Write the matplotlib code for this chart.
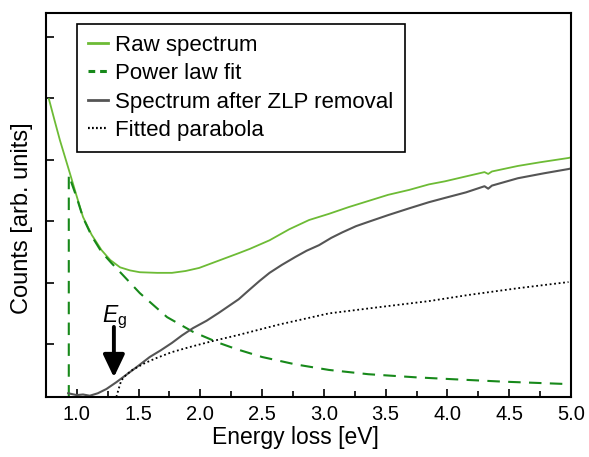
import matplotlib
matplotlib.use('Agg')
import matplotlib.pyplot as plt

plt.rcParams['font.family'] = ['Liberation Sans', 'DejaVu Sans']
plt.rcParams['mathtext.fontset'] = 'custom'
plt.rcParams['mathtext.rm'] = 'Liberation Sans'
plt.rcParams['mathtext.it'] = 'Liberation Sans:italic'

# raw spectrum
raw_x = [0.774, 0.82, 0.863, 0.944, 1.0, 1.05, 1.12, 1.20, 1.27, 1.35, 1.43, 1.51,
         1.65, 1.77, 1.88, 1.99, 2.15, 2.31, 2.40, 2.56, 2.72, 2.88, 3.04, 3.20,
         3.36, 3.52, 3.69, 3.85, 3.98, 4.15, 4.30, 4.33, 4.36, 4.57, 4.75, 4.98, 5.0]
raw_y = [3.99, 3.64, 3.32, 2.78, 2.40, 2.07, 1.78, 1.53, 1.37, 1.25, 1.20, 1.17,
         1.16, 1.16, 1.19, 1.24, 1.36, 1.48, 1.55, 1.69, 1.87, 2.02, 2.12, 2.23,
         2.33, 2.43, 2.51, 2.60, 2.65, 2.73, 2.80, 2.77, 2.81, 2.90, 2.96, 3.03, 3.04]

# power law fit (vertical drop at the fit window start)
pl_x = [0.935, 0.935, 1.0, 1.05, 1.12, 1.20, 1.28, 1.37, 1.51, 1.73, 1.94, 2.15,
        2.29, 2.50, 2.77, 3.04, 3.36, 3.74, 4.03, 4.44, 4.97]
pl_y = [-0.87, 2.75, 2.38, 2.06, 1.76, 1.50, 1.32, 1.13, 0.83, 0.44, 0.20, 0.02,
        -0.08, -0.21, -0.33, -0.42, -0.49, -0.54, -0.57, -0.61, -0.65]

# spectrum after ZLP removal
zlp_x = [0.93, 1.0, 1.05, 1.105, 1.17, 1.24, 1.32, 1.40, 1.50, 1.59, 1.68, 1.77,
         1.85, 1.94, 2.05, 2.15, 2.23, 2.31, 2.40, 2.48, 2.56, 2.66, 2.77, 2.86,
         2.96, 3.06, 3.15, 3.26, 3.36, 3.52, 3.69, 3.85, 3.98, 4.15, 4.30, 4.33,
         4.36, 4.57, 4.78, 4.98, 5.0]
zlp_y = [-0.80, -0.83, -0.82, -0.84, -0.80, -0.73, -0.62, -0.50, -0.35, -0.21, -0.10, 0.02,
         0.14, 0.26, 0.38, 0.51, 0.62, 0.73, 0.89, 1.03, 1.16, 1.29, 1.42, 1.52,
         1.61, 1.73, 1.82, 1.92, 1.99, 2.10, 2.21, 2.31, 2.38, 2.47, 2.57, 2.53,
         2.58, 2.70, 2.78, 2.85, 2.86]

# fitted parabola
par_x = [1.32, 1.34, 1.36, 1.40, 1.45, 1.55, 1.64, 1.77, 1.91, 2.10, 2.31, 2.64,
         3.04, 3.44, 3.85, 4.17, 4.57, 4.98]
par_y = [-0.86, -0.72, -0.59, -0.50, -0.42, -0.31, -0.23, -0.13, -0.05, 0.05, 0.15, 0.32,
         0.50, 0.60, 0.70, 0.80, 0.91, 1.01]

eg_x = 1.30

fig = plt.figure(figsize=(5.89, 4.57), dpi=100)
ax = fig.add_axes([0.078, 0.131, 0.8914, 0.8406])

ax.plot(raw_x, raw_y, color='#6dbb35', lw=1.3, label='Raw spectrum')
ax.plot(pl_x, pl_y, color='#17891a', lw=1.5, ls=(0, (6, 4)), label='Power law fit')
ax.plot(zlp_x, zlp_y, color='#555555', lw=1.5, label='Spectrum after ZLP removal')
ax.plot(par_x, par_y, color='black', lw=1.3, ls=(0, (1, 1.5)), label='Fitted parabola')

# band gap arrow
ax.annotate('', xy=(eg_x, -0.54), xytext=(eg_x, 0.28),
            arrowprops=dict(arrowstyle='-|>,head_width=0.5,head_length=1.05',
                            mutation_scale=13, color='black', lw=2.8,
                            shrinkA=0, shrinkB=0))
ax.text(1.306, 0.36, r'$E_{\mathrm{g}}$', fontsize=16.5, ha='center', va='baseline')

ax.set_xlim(0.75, 5.0)
ax.set_ylim(-0.863, 5.39)
ax.set_xticks([1.0, 1.5, 2.0, 2.5, 3.0, 3.5, 4.0, 4.5, 5.0])
ax.set_xticks([1.25, 1.75, 2.25, 2.75, 3.25, 3.75, 4.25, 4.75], minor=True)
ax.set_yticks([0, 1, 2, 3, 4, 5])
ax.set_yticklabels([])
ax.tick_params(direction='in', which='major', length=6, width=1.2, labelsize=14.5, top=False, right=False)
ax.tick_params(direction='in', which='minor', length=4, width=1.2)
ax.tick_params(axis='x', pad=6)
for s in ax.spines.values():
    s.set_linewidth(1.5)

ax.set_xlabel('Energy loss [eV]', fontsize=16.5)
ax.set_ylabel('Counts [arb. units]', fontsize=17)
ax.xaxis.set_label_coords(0.476, -0.075)
ax.yaxis.set_label_coords(-0.025, 0.467)

leg = ax.legend(loc='upper left', bbox_to_anchor=(0.059, 0.972), fontsize=16,
                handlelength=0.92, handletextpad=0.3, labelspacing=0.33,
                borderpad=0.5, borderaxespad=0, fancybox=False, framealpha=1,
                edgecolor='black')
leg.get_frame().set_linewidth(1.2)
# thicker, shorter-dashed handles in the legend
leg_lines = leg.get_lines()
leg_lines[0].set_linewidth(2.0)
leg_lines[1].set_linewidth(2.2)
leg_lines[1].set_dashes([2.2, 1.6])
leg_lines[2].set_linewidth(2.0)
leg_lines[3].set_linewidth(1.6)
leg_lines[3].set_dashes([0.8, 1.0])

fig.savefig('out.png', dpi=100)
